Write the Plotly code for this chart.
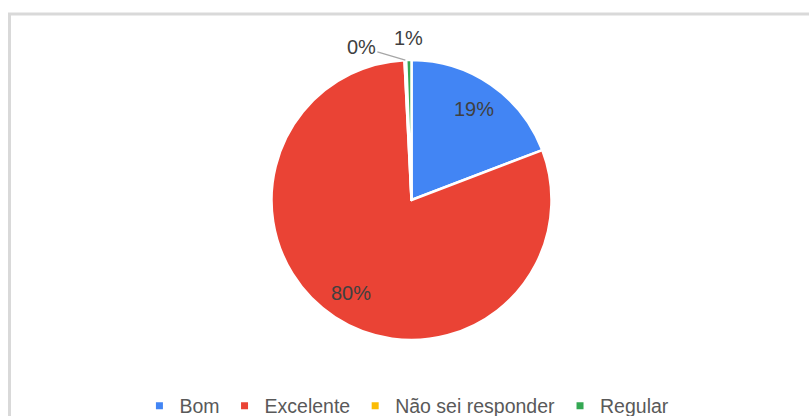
import math
import plotly.graph_objects as go

categories = ["Bom", "Excelente", "Não sei responder", "Regular"]
values = [19.2, 80.0, 0.2, 0.6]
colors = ["#4285F4", "#EA4335", "#FBBC04", "#34A853"]

W, H = 809, 416
FONT = "Liberation Sans, Arial, sans-serif"
fig = go.Figure()

# pie geometry in pixels (centre and radius), converted to paper domain
cx, cy, r = 411.5, 200, 140
fig.add_trace(go.Pie(
    labels=categories,
    values=values,
    sort=False,
    direction="clockwise",
    rotation=0,
    marker=dict(colors=colors, line=dict(color="white", width=2.5)),
    textinfo="none",
    showlegend=False,
    hoverinfo="label+percent",
    domain=dict(x=[(cx - r) / W, (cx + r) / W], y=[(H - cy - r) / H, (H - cy + r) / H]),
))

# percentage labels placed from the slice angles computed from the values
total = sum(values)
cum = 0.0
annotations = []
for i, v in enumerate(values):
    frac = v / total
    mid = (cum + frac / 2) * 2 * math.pi
    cum += frac
    txt = f"{round(frac * 100):.0f}%"
    sx, sy = math.sin(mid), -math.cos(mid)
    font = dict(family=FONT, size=20, color="#404040")
    if frac >= 0.05:
        rr = 0.79 * r
        px, py = cx + rr * sx, cy + rr * sy
        annotations.append(dict(x=px / W, y=1 - py / H, xref="paper", yref="paper",
                                xanchor="center", yanchor="middle",
                                text=txt, showarrow=False, font=font))
    elif categories[i] == "Regular":
        rr = r + 22
        px, py = cx + rr * sx, cy + rr * sy
        annotations.append(dict(x=px / W, y=1 - py / H, xref="paper", yref="paper",
                                xanchor="center", yanchor="middle",
                                text=txt, showarrow=False, font=font))
    else:
        px, py = cx + r * sx, cy + r * sy
        annotations.append(dict(x=px / W, y=1 - py / H, xref="paper", yref="paper",
                                text=txt, showarrow=True, arrowhead=0, arrowwidth=1.2,
                                arrowcolor="#a6a6a6", ax=-44, ay=-13, standoff=0,
                                font=font))

for name, col in zip(categories, colors):
    fig.add_trace(go.Scatter(
        x=[None], y=[None], mode="markers", name=name,
        marker=dict(symbol="square", size=7, color=col),
    ))

fig.update_layout(
    width=W, height=H,
    margin=dict(l=0, r=0, t=0, b=0, autoexpand=False),
    paper_bgcolor="white", plot_bgcolor="white",
    xaxis=dict(visible=False), yaxis=dict(visible=False),
    legend=dict(
        orientation="h", x=0.503, xanchor="center", y=10 / H, yanchor="middle",
        font=dict(family=FONT, size=19.5, color="#595959"),
        itemwidth=30, bgcolor="rgba(0,0,0,0)",
    ),
    annotations=annotations,
    shapes=[dict(
        type="rect", xref="paper", yref="paper",
        x0=9.5 / W, x1=1.05, y0=-0.05, y1=1 - 14 / H,
        line=dict(color="#d9d9d9", width=3), fillcolor="rgba(0,0,0,0)", layer="below",
    )],
)

fig.write_html("out.html", config={"displayModeBar": False},
               post_script="document.body.style.margin='0';")
